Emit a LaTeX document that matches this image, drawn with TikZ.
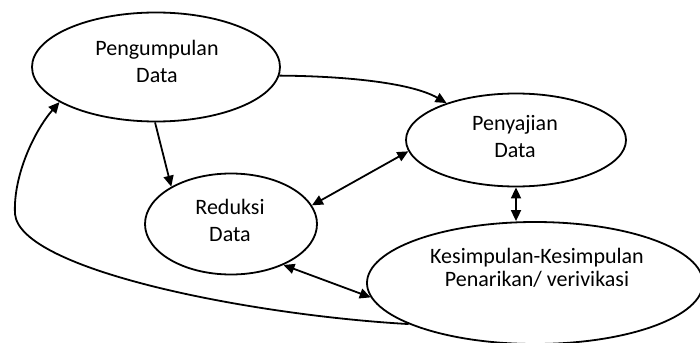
\documentclass[tikz,border=0pt]{standalone}
\usepackage{fontspec}
\setmainfont{Carlito}
\usetikzlibrary{arrows.meta,shapes.geometric}
\begin{document}
\begin{tikzpicture}[x=0.5pt,y=-0.5pt,
  blob/.style={draw,ellipse,line width=0.9pt,inner sep=0pt},
  lbl/.style={align=center,font=\fontsize{11}{13.5}\selectfont,inner sep=0pt},
  tip/.style={Triangle[length=5.5pt,width=5pt]},
  conn/.style={line width=0.9pt,-{Triangle[length=5.5pt,width=5pt]}},
  dconn/.style={line width=0.9pt,{Triangle[length=5.5pt,width=5pt]}-{Triangle[length=5.5pt,width=5pt]}}]
\useasboundingbox (0,0) rectangle (700,342);
% ellipses
\node[blob,minimum width=124pt,minimum height=54.5pt] (peng) at (156,67) {};
\node[blob,minimum width=110pt,minimum height=46.5pt] (peny) at (516,140) {};
\node[blob,minimum width=86pt,minimum height=50.5pt] (red) at (231,224) {};
\node[blob,minimum width=168pt,minimum height=61pt] (kes) at (535,283) {};
% labels
\node[lbl] (pengt) at (157,61) {Pengumpulan\\Data};
\node[lbl] (penyt) at (515,137) {Penyajian\\Data};
\node[lbl] (redt) at (230,220) {Reduksi\\Data};
\node[lbl,font=\fontsize{11}{11.5}\selectfont] (kest) at (537,268) {Kesimpulan-Kesimpulan\\Penarikan/ verivikasi};
% connectors
\draw[conn] (peng.-4) .. controls (340,76) and (410,82) .. (peny.152);
\draw[conn] (peng.-91) -- (red.148);
\draw[dconn] (red.13) -- (peny.186);
\draw[dconn] (peny.south) -- (kes.north -| peny.south);
\draw[dconn] (red.-38) -- (kes.185);
\coordinate (loop) at (15,214);
\draw[conn] (kes.198) .. controls (250,315) and (20,270) .. (loop) .. controls (13,175) and (35,130) .. (peng.200);
\end{tikzpicture}
\end{document}
